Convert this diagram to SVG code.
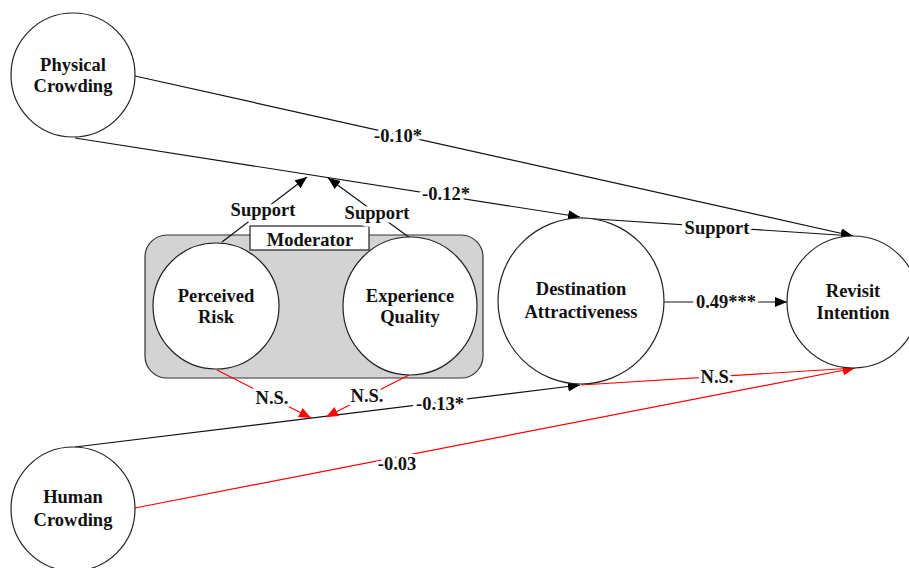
<svg xmlns="http://www.w3.org/2000/svg" width="909" height="568" viewBox="0 0 909 568">
<style>
text{font-family:"Liberation Serif","Times New Roman",serif;font-weight:bold;font-size:18.5px;fill:#111;text-anchor:middle}
.node{fill:#fff;stroke:#222;stroke-width:1.2}
.blk{stroke:#111;stroke-width:1.2;fill:none}
.red{stroke:#f00;stroke-width:1.2;fill:none}
.lbl{stroke:#fff;stroke-width:7;paint-order:stroke;stroke-linejoin:round}
</style>
<defs>
<marker id="ab" markerUnits="userSpaceOnUse" markerWidth="13" markerHeight="11" refX="12" refY="5" orient="auto"><path d="M0,0 L12,5 L0,10 z" fill="#000"/></marker>
<marker id="ar" markerUnits="userSpaceOnUse" markerWidth="13" markerHeight="11" refX="12" refY="5" orient="auto"><path d="M0,0 L12,5 L0,10 z" fill="#f00"/></marker>
</defs>
<rect width="909" height="568" fill="#fff"/>
<g id="moderator-box">
<rect x="145" y="235" width="338" height="143" rx="22" fill="#d3d3d3" stroke="#333" stroke-width="1.2"/>
<rect x="250" y="226" width="119" height="24" fill="#fff" stroke="#222" stroke-width="1.2"/>
<text x="310" y="246">Moderator</text>
</g>
<g id="connectors">
<line class="blk" x1="135" y1="76" x2="853" y2="236" marker-end="url(#ab)"/>
<line class="blk" x1="75" y1="138" x2="580" y2="217" marker-end="url(#ab)"/>
<line class="blk" x1="222" y1="242" x2="307" y2="177" marker-end="url(#ab)"/>
<line class="blk" x1="410" y1="238" x2="328" y2="178" marker-end="url(#ab)"/>
<line class="blk" x1="581" y1="218" x2="853" y2="236" marker-end="url(#ab)"/>
<line class="blk" x1="664" y1="302" x2="787" y2="302" marker-end="url(#ab)"/>
<line class="blk" x1="75" y1="447" x2="580" y2="385" marker-end="url(#ab)"/>
<line class="red" x1="581" y1="385" x2="855" y2="368" marker-end="url(#ar)"/>
<line class="red" x1="135" y1="508" x2="855" y2="368" marker-end="url(#ar)"/>
<line class="red" x1="217" y1="370" x2="311" y2="418" marker-end="url(#ar)"/>
<line class="red" x1="409" y1="375" x2="326" y2="417" marker-end="url(#ar)"/>
<text class="lbl" x="398" y="142">-0.10*</text>
<text class="lbl" x="446" y="200">-0.12*</text>
<text class="lbl" x="263" y="216">Support</text>
<text class="lbl" x="377" y="219">Support</text>
<text class="lbl" x="717" y="234">Support</text>
<text class="lbl" x="726" y="308">0.49***</text>
<text class="lbl" x="717" y="383">N.S.</text>
<text class="lbl" x="440" y="410">-0.13*</text>
<text class="lbl" x="397" y="470">-0.03</text>
<text class="lbl" x="272" y="404">N.S.</text>
<text class="lbl" x="367" y="402">N.S.</text>
</g>
<g id="physical-crowding">
<circle class="node" cx="73" cy="75" r="62"/>
<text x="73" y="71">Physical</text>
<text x="73" y="92">Crowding</text>
</g>
<g id="human-crowding">
<circle class="node" cx="73" cy="509" r="62"/>
<text x="73" y="503">Human</text>
<text x="73" y="526">Crowding</text>
</g>
<g id="perceived-risk">
<circle class="node" cx="216" cy="306" r="63"/>
<text x="216" y="302">Perceived</text>
<text x="216" y="323">Risk</text>
</g>
<g id="experience-quality">
<ellipse class="node" cx="410" cy="306" rx="67" ry="69"/>
<text x="410" y="302">Experience</text>
<text x="410" y="323">Quality</text>
</g>
<g id="destination-attractiveness">
<circle class="node" cx="581" cy="301" r="83"/>
<text x="581" y="295">Destination</text>
<text x="581" y="318">Attractiveness</text>
</g>
<g id="revisit-intention">
<circle class="node" cx="853" cy="302" r="66"/>
<text x="853" y="297">Revisit</text>
<text x="853" y="319">Intention</text>
</g>
</svg>
